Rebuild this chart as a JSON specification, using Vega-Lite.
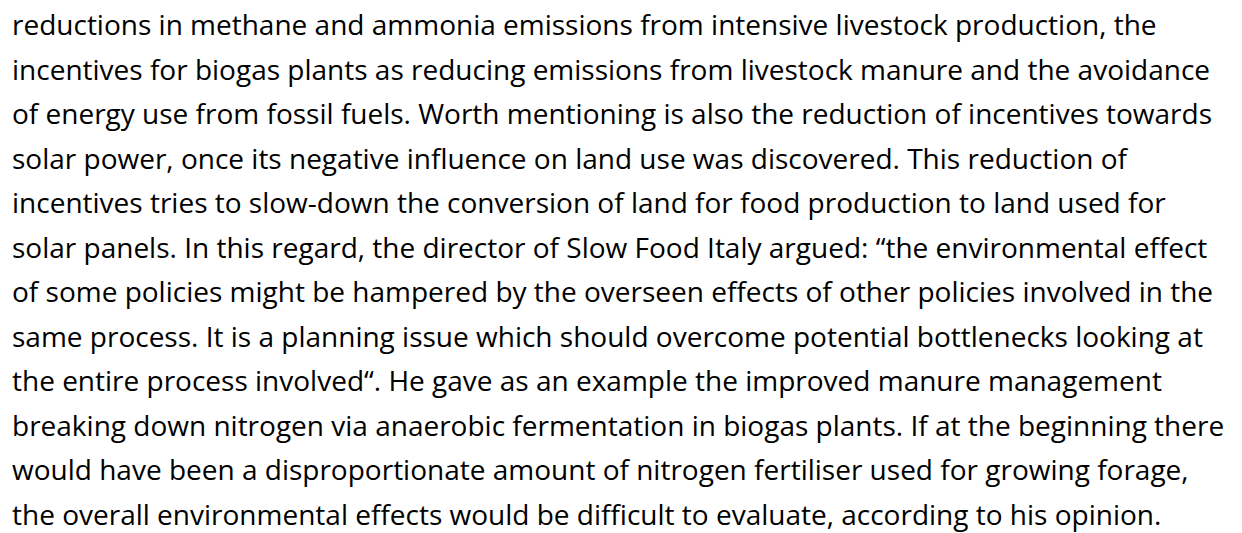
{
  "$schema": "https://vega.github.io/schema/vega-lite/v6.json",
  "width": 1229,
  "height": 490,
  "autosize": {"type": "none"},
  "padding": {"left": 12, "top": 35, "right": 1, "bottom": 8},
  "background": "white",
  "config": {"view": {"stroke": null}},
  "data": {"values": [
    {"line": 1, "text": "reductions in methane and ammonia emissions from intensive livestock production, the"},
    {"line": 2, "text": "incentives for biogas plants as reducing emissions from livestock manure and the avoidance"},
    {"line": 3, "text": "of energy use from fossil fuels. Worth mentioning is also the reduction of incentives towards"},
    {"line": 4, "text": "solar power, once its negative influence on land use was discovered. This reduction of"},
    {"line": 5, "text": "incentives tries to slow-down the conversion of land for food production to land used for"},
    {"line": 6, "text": "solar panels. In this regard, the director of Slow Food Italy argued: “the environmental effect"},
    {"line": 7, "text": "of some policies might be hampered by the overseen effects of other policies involved in the"},
    {"line": 8, "text": "same process. It is a planning issue which should overcome potential bottlenecks looking at"},
    {"line": 9, "text": "the entire process involved“. He gave as an example the improved manure management"},
    {"line": 10, "text": "breaking down nitrogen via anaerobic fermentation in biogas plants. If at the beginning there"},
    {"line": 11, "text": "would have been a disproportionate amount of nitrogen fertiliser used for growing forage,"},
    {"line": 12, "text": "the overall environmental effects would be difficult to evaluate, according to his opinion."}
  ]},
  "mark": {"type": "text", "align": "left", "baseline": "alphabetic", "font": "Open Sans", "fontSize": 28, "color": "black"},
  "encoding": {
    "x": {"datum": 0, "type": "quantitative", "scale": {"domain": [0, 1]}, "axis": null},
    "y": {"field": "line", "type": "ordinal", "scale": {"type": "point", "padding": 0}, "axis": null},
    "text": {"field": "text"}
  }
}
